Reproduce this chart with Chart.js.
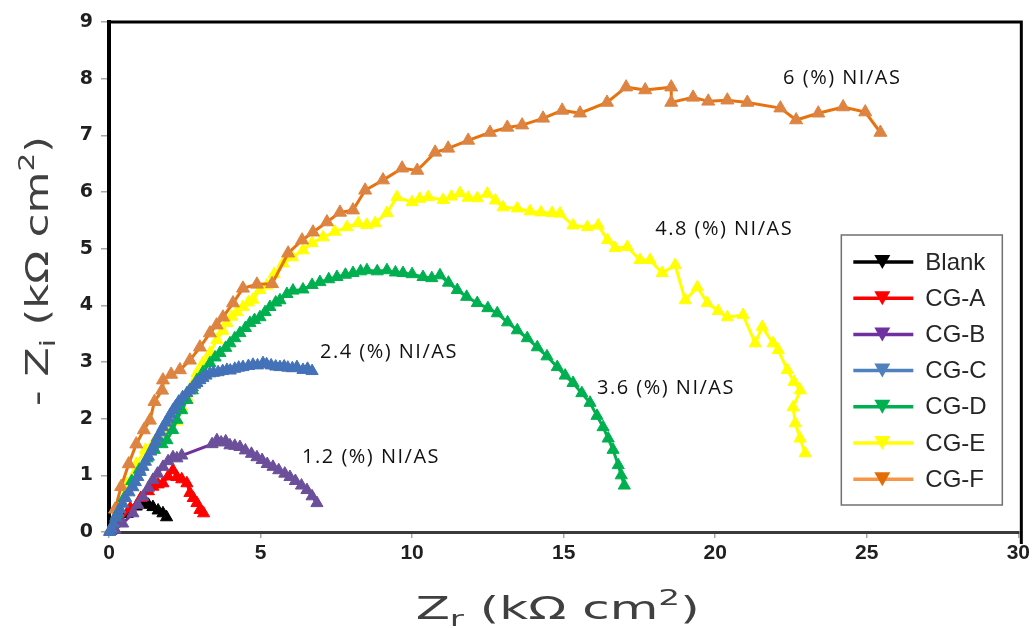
<!DOCTYPE html>
<html>
<head>
<meta charset="utf-8">
<script src="https://cdn.jsdelivr.net/npm/chart.js@4.4.1/dist/chart.umd.min.js"></script>
<style>
  body { margin: 0; background: #fff; }
  #wrap { width: 1033px; height: 628px; }
</style>
</head>
<body>
<div id="wrap"><canvas id="chart" width="1033" height="628"></canvas></div>
<script>
// axis ranges
const xTicks = [0, 5, 10, 15, 20, 25, 30];
const yTicks = [0, 1, 2, 3, 4, 5, 6, 7, 8, 9];

const seriesNames = ["Blank", "CG-A", "CG-B", "CG-C", "CG-D", "CG-E", "CG-F"];

// Zr (x) and -Zi (y), kOhm cm2
const blankX = [0.05, 0.3, 0.6, 0.9, 1.12, 1.3, 1.45, 1.62, 1.78, 1.9];
const blankY = [0.02, 0.17, 0.32, 0.45, 0.51, 0.48, 0.44, 0.38, 0.33, 0.26];

const cgAX = [0.05, 0.35, 0.7, 1.05, 1.3, 1.45, 1.62, 1.78, 1.95, 2.11, 2.24, 2.4, 2.57, 2.67, 2.78, 2.9, 3.0, 3.12];
const cgAY = [0.02, 0.2, 0.42, 0.6, 0.72, 0.8, 0.84, 0.86, 0.98, 1.09, 0.97, 0.93, 0.86, 0.69, 0.6, 0.51, 0.39, 0.33];

const cgBX = [0.05, 0.2, 0.45, 0.79, 0.95, 1.12, 1.3, 1.45, 1.6, 1.78, 1.95, 2.11, 2.24, 2.4, 3.4, 3.56, 3.7, 3.85, 3.99, 4.15,
              4.32, 4.5, 4.7, 4.88, 5.05, 5.22, 5.41, 5.6, 5.8, 5.97, 6.15, 6.35, 6.53, 6.7, 6.86];
const cgBY = [0.02, 0.04, 0.15, 0.33, 0.48, 0.62, 0.78, 0.92, 1.03, 1.15, 1.25, 1.32, 1.3, 1.35, 1.55, 1.62, 1.58, 1.6, 1.53, 1.52,
              1.5, 1.44, 1.38, 1.32, 1.27, 1.2, 1.15, 1.09, 1.03, 0.97, 0.9, 0.82, 0.74, 0.63, 0.51];

const cgCX = [0.02, 0.08, 0.15, 0.22, 0.3, 0.36, 0.45, 0.55, 0.66, 0.79, 0.87, 0.95, 1.03, 1.12, 1.2, 1.3, 1.38, 1.45, 1.53, 1.6,
              1.7, 1.78, 1.87, 1.95, 2.03, 2.11, 2.2, 2.3, 2.43, 2.57, 2.66, 2.75, 2.83, 2.9, 3.0, 3.1, 3.2, 3.33, 3.45, 3.6,
              3.75, 3.89, 4.0, 4.15, 4.28, 4.42, 4.6, 4.75, 4.9, 5.08, 5.2, 5.35, 5.5, 5.64, 5.78, 5.9, 6.05, 6.2, 6.4, 6.55, 6.7];
const cgCY = [0.0, 0.06, 0.15, 0.25, 0.34, 0.4, 0.5, 0.6, 0.7, 0.79, 0.88, 0.97, 1.06, 1.15, 1.24, 1.33, 1.42, 1.5, 1.58, 1.67,
              1.76, 1.85, 1.93, 2.0, 2.08, 2.15, 2.22, 2.3, 2.38, 2.45, 2.5, 2.55, 2.6, 2.63, 2.68, 2.72, 2.76, 2.8, 2.81, 2.82,
              2.84, 2.86, 2.85, 2.88, 2.9, 2.91, 2.93, 2.95, 2.94, 2.98, 2.96, 2.94, 2.92, 2.91, 2.92, 2.9, 2.89, 2.91, 2.86, 2.88, 2.84];

const cgDX = [0.05, 0.25, 0.5, 0.75, 1.0, 1.25, 1.5, 1.75, 1.91, 2.1, 2.24, 2.4, 2.57, 2.75, 2.9, 3.1, 3.33, 3.5, 3.66, 3.85,
              3.99, 4.15, 4.32, 4.5, 4.65, 4.8, 4.98, 5.15, 5.31, 5.5, 5.64, 5.87, 6.07, 6.4, 6.7, 6.96, 7.25, 7.52, 7.8, 8.05,
              8.3, 8.51, 8.85, 9.17, 9.45, 9.7, 10.0, 10.36, 10.65, 10.92, 11.2, 11.49, 11.8, 12.15, 12.5, 12.81, 13.15, 13.47, 13.8, 14.13,
              14.45, 14.79, 15.05, 15.31, 15.6, 15.87, 16.1, 16.3, 16.47, 16.63, 16.8, 16.9, 17.0];
const cgDY = [0.03, 0.3, 0.6, 0.9, 1.1, 1.3, 1.45, 1.55, 1.62, 1.8, 1.98, 2.15, 2.33, 2.5, 2.68, 2.82, 2.98, 3.08, 3.16, 3.25,
              3.33, 3.42, 3.51, 3.6, 3.69, 3.74, 3.79, 3.88, 3.97, 4.05, 4.09, 4.2, 4.26, 4.28, 4.36, 4.41, 4.46, 4.5, 4.54, 4.57,
              4.6, 4.62, 4.6, 4.62, 4.58, 4.57, 4.55, 4.5, 4.48, 4.53, 4.4, 4.27, 4.15, 4.04, 3.95, 3.86, 3.7, 3.56, 3.42, 3.26,
              3.1, 2.91, 2.76, 2.63, 2.45, 2.28, 2.05, 1.85, 1.65, 1.45, 1.18, 1.0, 0.82];

const cgEX = [0.05, 0.3, 0.6, 0.9, 1.2, 1.5, 1.8, 2.0, 2.24, 2.4, 2.57, 2.75, 2.9, 3.1, 3.33, 3.56, 3.75, 3.89, 4.05, 4.22,
              4.42, 4.6, 4.75, 4.98, 5.21, 5.45, 5.74, 6.05, 6.4, 6.7, 7.06, 7.45, 7.85, 8.22, 8.5, 8.78, 9.17, 9.5, 10.0, 10.25,
              10.53, 11.02, 11.3, 11.58, 11.85, 12.15, 12.48, 12.75, 13.0, 13.47, 13.89, 14.25, 14.62, 14.88, 15.31, 15.78, 16.14, 16.45, 16.7, 17.1,
              17.52, 17.85, 18.25, 18.68, 19.01, 19.41, 19.74, 20.1, 20.4, 20.92, 21.32, 21.55, 21.91, 22.08, 22.38, 22.6, 22.81, 22.57, 22.64, 22.8, 22.97];
const cgEY = [0.03, 0.45, 0.85, 1.2, 1.45, 1.6, 1.75, 1.85, 1.95, 2.2, 2.38, 2.6, 2.8, 2.98, 3.16, 3.39, 3.55, 3.69, 3.8, 3.88,
              3.97, 4.05, 4.1, 4.27, 4.35, 4.55, 4.74, 4.85, 4.97, 5.1, 5.2, 5.3, 5.38, 5.45, 5.42, 5.45, 5.63, 5.91, 5.82, 5.88,
              5.91, 5.86, 5.92, 5.98, 5.9, 5.89, 5.97, 5.85, 5.73, 5.71, 5.66, 5.64, 5.63, 5.62, 5.41, 5.38, 5.41, 5.15, 5.01, 5.03,
              4.8, 4.8, 4.57, 4.71, 4.09, 4.32, 4.04, 3.9, 3.79, 3.83, 3.33, 3.62, 3.33, 3.21, 2.86, 2.65, 2.5, 2.2, 1.92, 1.65, 1.39];

const cgFX = [0.05, 0.2, 0.4, 0.65, 0.9, 1.15, 1.35, 1.5, 1.75, 1.78, 2.05, 2.34, 2.67, 3.0, 3.33, 3.55, 3.76, 4.09, 4.42, 4.88,
              5.38, 5.91, 6.37, 6.73, 7.19, 7.62, 8.05, 8.45, 9.04, 9.67, 10.17, 10.76, 11.19, 11.85, 12.57, 13.14, 13.63, 14.32, 14.95, 15.54,
              16.43, 17.06, 17.69, 18.55, 18.55, 19.27, 19.77, 20.4, 21.06, 22.15, 22.67, 23.4, 24.22, 24.95, 25.45];
const cgFY = [0.03, 0.4, 0.8, 1.2, 1.55, 1.8, 1.97, 2.3, 2.5, 2.68, 2.78, 2.86, 3.03, 3.26, 3.51, 3.65, 3.79, 4.04, 4.3, 4.37,
              4.38, 4.92, 5.15, 5.29, 5.47, 5.64, 5.68, 6.03, 6.21, 6.42, 6.38, 6.7, 6.77, 6.91, 7.05, 7.14, 7.18, 7.3, 7.44, 7.39,
              7.58, 7.85, 7.8, 7.85, 7.58, 7.67, 7.6, 7.62, 7.58, 7.48, 7.27, 7.39, 7.5, 7.41, 7.05];

const seriesX = [blankX, cgAX, cgBX, cgCX, cgDX, cgEX, cgFX];
const seriesY = [blankY, cgAY, cgBY, cgCY, cgDY, cgEY, cgFY];

// text notes on the plot, anchored in data units (left edge, middle)
const noteTexts = ["6 (%) NI/AS", "4.8 (%) NI/AS", "3.6 (%) NI/AS", "2.4 (%) NI/AS", "1.2 (%) NI/AS"];
const noteX = [22.24, 18.02, 16.1, 6.96, 6.37];
const noteY = [8.0, 5.34, 2.54, 3.17, 1.31];

const lineColours = ["#000000", "#ff0000", "#7030a0", "#4472b8", "#00b050", "#ffff00", "#e8720c"];
const markerColours = ["#000000", "#ff0000", "#6b4f9a", "#4472b8", "#00b050", "#ffff00", "#dd8442"];
const legendLineColours = ["#000000", "#ff0000", "#7030a0", "#4f81bd", "#00b050", "#ffff00", "#f79646"];
const legendMarkerColours = ["#000000", "#ff0000", "#7030a0", "#4f81bd", "#00b050", "#ffff00", "#e36c09"];
const drawOrder = [5, 4, 2, 0, 3, 6, 5];

const datasets = seriesNames.map((name, i) => ({
  label: name,
  data: seriesX[i].map((x, j) => ({ x: x, y: seriesY[i][j] })),
  showLine: true,
  borderColor: lineColours[i],
  borderWidth: 3,
  pointStyle: "triangle",
  pointRadius: i === 6 ? 7.5 : 7,
  pointBackgroundColor: markerColours[i],
  pointBorderColor: markerColours[i],
  pointBorderWidth: 1,
  order: drawOrder[i],
  clip: false,
}));

const frame = {
  id: "frame",
  beforeDatasetsDraw(chart) {
    const { ctx, chartArea: a } = chart;
    ctx.save();
    ctx.strokeStyle = "#000";
    ctx.lineWidth = 3;
    ctx.beginPath();
    ctx.moveTo(a.left, a.top);
    ctx.lineTo(a.right + 3, a.top);
    ctx.moveTo(a.right + 3, a.top - 1.5);
    ctx.lineTo(a.right + 3, a.bottom + 12);
    ctx.stroke();
    ctx.restore();
  },
};

const notes = {
  id: "notes",
  afterDatasetsDraw(chart) {
    const { ctx, scales } = chart;
    ctx.save();
    ctx.font = '20px "Open Sans"';
    ctx.fillStyle = "#111";
    ctx.textAlign = "left";
    ctx.textBaseline = "middle";
    ctx.letterSpacing = "1.5px";
    noteTexts.forEach((t, i) => {
      ctx.fillText(t, scales.x.getPixelForValue(noteX[i]), scales.y.getPixelForValue(noteY[i]));
    });
    ctx.restore();
  },
};

// axis title with sub/superscript, stretched sideways to the wanted width (the original font is a wide one)
function drawRich(ctx, segs, size, target) {
  const fontFor = (s) => `${s.sub || s.sup ? Math.round(size * 0.68) : size}px "DejaVu Sans"`;
  let w = 0;
  segs.forEach((s) => { ctx.font = fontFor(s); w += ctx.measureText(s.t).width; });
  ctx.scale(target / w, 1);
  let x = -w / 2;
  segs.forEach((s) => {
    ctx.font = fontFor(s);
    const dy = s.sub ? size * 0.3 : s.sup ? -size * 0.36 : 0;
    ctx.fillText(s.t, x, dy);
    x += ctx.measureText(s.t).width;
  });
}

const axisTitles = {
  id: "axisTitles",
  afterDraw(chart) {
    const { ctx, chartArea: a } = chart;
    ctx.save();
    ctx.fillStyle = "#404040";
    ctx.textAlign = "left";
    ctx.textBaseline = "middle";
    ctx.translate(40, (a.top + a.bottom) / 2 - 6);
    ctx.rotate(-Math.PI / 2);
    drawRich(ctx, [{ t: "- Z" }, { t: "i", sub: true }, { t: " (kΩ cm" }, { t: "2", sup: true }, { t: ")" }], 32, 270);
    ctx.restore();
    ctx.save();
    ctx.fillStyle = "#404040";
    ctx.textAlign = "left";
    ctx.textBaseline = "middle";
    ctx.translate((a.left + a.right) / 2 - 6, 611);
    drawRich(ctx, [{ t: "Z" }, { t: "r", sub: true }, { t: " (kΩ cm" }, { t: "2", sup: true }, { t: ")" }], 32, 284);
    ctx.restore();
  },
};

const legendBox = {
  id: "legendBox",
  afterDraw(chart) {
    const { ctx, chartArea: a } = chart;
    const left = a.right - 177, top = a.bottom - 297, w = 161, h = 270;
    ctx.save();
    ctx.fillStyle = "#fff";
    ctx.fillRect(left, top, w, h);
    ctx.strokeStyle = "#707070";
    ctx.lineWidth = 1.5;
    ctx.strokeRect(left, top, w, h);
    ctx.font = '24px "Liberation Sans"';
    ctx.textAlign = "left";
    ctx.textBaseline = "middle";
    seriesNames.forEach((name, i) => {
      const y = top + 27 + i * 36.2;
      ctx.strokeStyle = legendLineColours[i];
      ctx.lineWidth = 3.5;
      ctx.beginPath();
      ctx.moveTo(left + 12, y);
      ctx.lineTo(left + 72, y);
      ctx.stroke();
      ctx.fillStyle = legendMarkerColours[i];
      ctx.beginPath();
      ctx.moveTo(left + 33, y - 7);
      ctx.lineTo(left + 49, y - 7);
      ctx.lineTo(left + 41, y + 7);
      ctx.closePath();
      ctx.fill();
      ctx.fillStyle = "#262626";
      ctx.fillText(name, left + 84, y + 1);
    });
    ctx.restore();
  },
};

new Chart(document.getElementById("chart").getContext("2d"), {
  type: "scatter",
  data: { datasets: datasets },
  options: {
    responsive: false,
    animation: false,
    layout: { padding: { top: 22, right: 14, left: 0, bottom: 0 } },
    plugins: { legend: { display: false }, tooltip: { enabled: false } },
    elements: { line: { tension: 0 } },
    scales: {
      x: {
        type: "linear",
        min: xTicks[0],
        max: xTicks[xTicks.length - 1],
        afterBuildTicks: (s) => { s.ticks = xTicks.map((v) => ({ value: v })); },
        afterFit: (s) => { s.height = 96; },
        ticks: {
          font: { family: '"Liberation Sans Narrow", "Liberation Sans"', weight: "bold", size: 21 },
          color: "#1f1f1f",
          padding: 3,
          maxRotation: 0,
        },
        grid: { drawOnChartArea: false, tickLength: 6, color: "#a6a6a6", lineWidth: 1.5 },
        border: { color: "#3a3a3a", width: 3 },
      },
      y: {
        type: "linear",
        min: yTicks[0],
        max: yTicks[yTicks.length - 1],
        afterBuildTicks: (s) => { s.ticks = yTicks.map((v) => ({ value: v })); },
        afterFit: (s) => { s.width = 109; },
        ticks: {
          font: { family: '"DejaVu Sans"', weight: "bold", size: 19 },
          color: "#1f1f1f",
          padding: 8,
        },
        grid: { drawOnChartArea: false, tickLength: 8, color: "#a6a6a6", lineWidth: 1.5 },
        border: { color: "#000", width: 4 },
      },
    },
  },
  plugins: [frame, notes, axisTitles, legendBox],
});
</script>
</body>
</html>
